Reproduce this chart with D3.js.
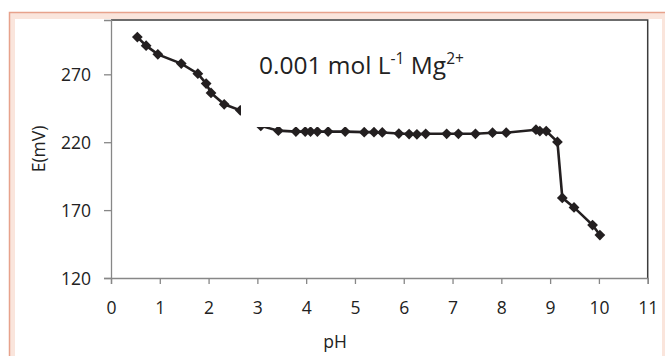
<!DOCTYPE html>
<html><head><meta charset="utf-8">
<script src="https://cdn.jsdelivr.net/npm/d3@7"></script>
<style>body{margin:0;background:#fff}svg{display:block}</style>
</head><body><div id="chart"></div>
<script>
const pH = [0.54,0.72,0.96,1.44,1.78,1.95,2.05,2.32,2.65,3.07,3.43,3.79,3.98,4.09,4.23,4.45,4.80,5.19,5.39,5.56,5.90,6.11,6.27,6.45,6.88,7.12,7.47,7.82,8.10,8.71,8.79,8.92,9.15,9.25,9.49,9.87,10.02];
const E  = [297.4,291.1,284.7,277.9,270.5,263.2,256.3,247.9,243.5,232.0,228.5,227.8,227.8,227.8,227.8,227.8,227.8,227.4,227.4,227.2,226.4,226.0,225.8,226.2,226.2,226.2,226.2,227.0,227.0,229.2,228.2,228.2,220.2,179.0,172.0,159.0,151.6];
const xTicks = [0,1,2,3,4,5,6,7,8,9,10,11];
const yTicks = [120,170,220,270];
const xLabel = "pH", yLabel = "E(mV)";

const W = 665, H = 356;
const font = "'Open Sans', 'Noto Sans', sans-serif";
const svg = d3.select("#chart").append("svg").attr("width", W).attr("height", H);

// frame
svg.append("rect").attr("x",9.5).attr("y",12.5).attr("width",720).attr("height",400)
  .attr("fill","#fae5dc").attr("stroke","#e7a28c").attr("stroke-width",1.5);
svg.append("rect").attr("x",15).attr("y",19).attr("width",647).attr("height",400).attr("fill","#fff");

const L = 111, R = 647.7, T = 20, B = 278;
const x = d3.scaleLinear().domain([0,11]).range([L,R]);
const y = d3.scaleLinear().domain([120,310]).range([B,T]);

// top/right border
svg.append("path").attr("d",`M${L},${T}H${R}V${B}`).attr("fill","none")
  .attr("stroke","#3c3c3c").attr("stroke-width",1.5);

const xa = svg.append("g").attr("transform",`translate(0,${B})`)
  .call(d3.axisBottom(x).tickValues(xTicks).tickSize(6).tickPadding(18).tickFormat(d3.format("d")));
const ya = svg.append("g").attr("transform",`translate(${L},0)`)
  .call(d3.axisLeft(y).tickValues(yTicks).tickSize(7).tickPadding(13).tickFormat(d3.format("d")));
[xa,ya].forEach(a=>{
  a.selectAll("path,line").attr("stroke","#878787").attr("stroke-width",1.3);
  a.selectAll("text").attr("fill","#222").style("font-family",font).style("font-size","17.5px");
});
ya.selectAll("text").attr("dy","0.36em");

// data
const pts = pH.map((p,i)=>[p,E[i]]);
svg.append("path").datum(pts)
  .attr("d", d3.line().x(d=>x(d[0])).y(d=>y(d[1])))
  .attr("fill","none").attr("stroke","#231f20").attr("stroke-width",2.6);
svg.append("g").selectAll("path").data(pts).join("path")
  .attr("d", d3.symbol().type(d3.symbolSquare).size(58))
  .attr("transform", d=>`translate(${x(d[0])},${y(d[1])}) rotate(45)`)
  .attr("fill","#231f20");

// title text box (white, covers part of the curve)
svg.append("rect").attr("x",241).attr("y",36).attr("width",250).attr("height",91).attr("fill","#fff");
const t = svg.append("text").attr("x",259).attr("y",74).attr("fill","#222")
  .style("font-family",font).style("font-size","24.5px");
t.append("tspan").text("0.001 mol L");
t.append("tspan").text("-1").attr("dy",-10).style("font-size","15.5px");
t.append("tspan").text(" Mg").attr("dy",10);
t.append("tspan").text("2+").attr("dy",-10).style("font-size","15.5px");

svg.append("text").attr("x",335).attr("y",348).attr("text-anchor","middle").attr("fill","#222")
  .style("font-family",font).style("font-size","17.5px").text(xLabel);
svg.append("text").attr("transform","translate(45,149) rotate(-90)").attr("text-anchor","middle").attr("fill","#222")
  .style("font-family",font).style("font-size","17.5px").text(yLabel);
</script></body></html>
